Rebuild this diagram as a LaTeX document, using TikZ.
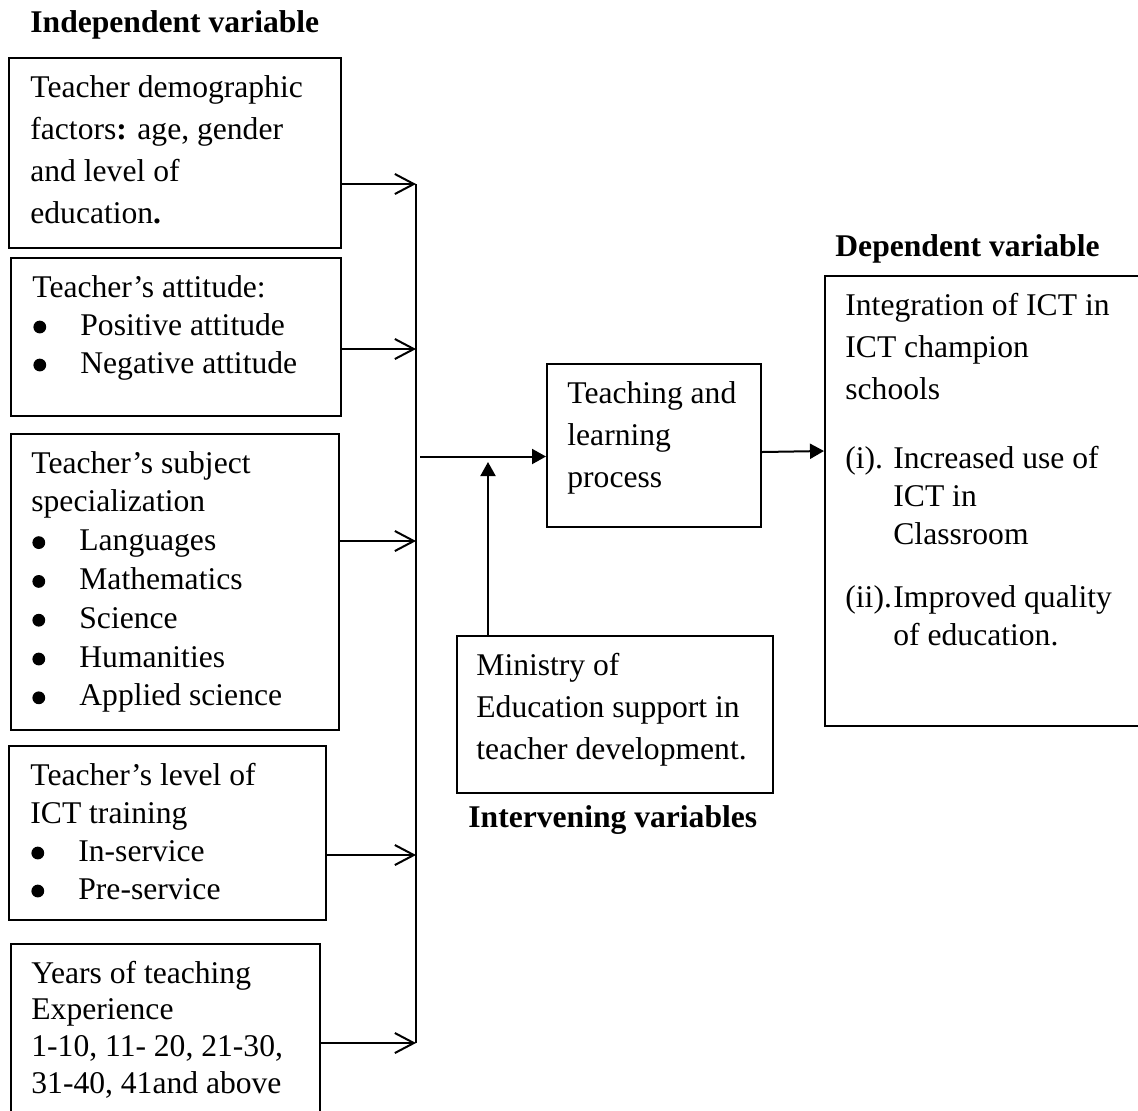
\documentclass[tikz,border=0pt]{standalone}
\usepackage{fontspec}
\setmainfont{Liberation Serif}
\usetikzlibrary{arrows.meta}

\newcommand{\bodysize}{\fontsize{15.8}{19}\selectfont}
\newcommand{\widesize}{\fontsize{15.8}{21}\selectfont}
\newcommand{\bdot}{\tikz[baseline=-4pt]\fill (0,0) circle (3.2pt);}
\newcommand{\bitem}[1]{\makebox[24pt][l]{\hspace*{0.5pt}\bdot}#1}
\newcommand{\ditem}[2]{\makebox[24pt][l]{#1}#2}

\tikzset{
  varbox/.style={draw, line width=1pt, inner sep=0pt, anchor=north west},
  vartext/.style={anchor=base west, inner sep=0pt, align=left},
  heading/.style={anchor=base west, inner sep=0pt, font=\bodysize\bfseries},
  feed/.style={line width=1pt, -{Straight Barb[length=9.5pt,width=10pt]}},
  flow/.style={line width=1pt, -{Triangle[length=7pt,width=7.5pt]}}
}

\begin{document}
\begin{tikzpicture}[x=0.5pt,y=-0.5pt]
\useasboundingbox (0,0) rectangle (1138,1110);
\clip (0,0) rectangle (1138,1110);

 \node[heading] (indep) at (30,32) {Independent variable};
 \node[heading] (depvar) at (835,256) {Dependent variable};
 \node[heading] (interv) at (468,827) {Intervening variables};

 \node[varbox, minimum width=166pt, minimum height=95pt] (demog) at (8,57) {};
 \node[varbox, minimum width=165pt, minimum height=79pt] (attit) at (10,257) {};
 \node[varbox, minimum width=164pt, minimum height=148pt] (subj) at (10,433) {};
 \node[varbox, minimum width=158.5pt, minimum height=87pt] (train) at (8,745) {};
 \node[varbox, minimum width=154.5pt, minimum height=95pt] (years) at (10,943) {};
 \node[varbox, minimum width=107pt, minimum height=81.5pt] (teach) at (546,363) {};
 \node[varbox, minimum width=158pt, minimum height=78.5pt] (mini) at (456,635) {};
 \node[varbox, minimum width=162pt, minimum height=225pt] (dep) at (824,275) {};

 \node[vartext, font=\widesize] (demogtxt) at (30,97) {\begin{tabular}[t]{@{}l@{}}
  Teacher demographic\\ factors\textbf{:} age, gender\\ and level of\\ education\textbf{.}\end{tabular}};
 \node[vartext, font=\bodysize] (attittxt) at (32,297) {\begin{tabular}[t]{@{}l@{}}
  Teacher’s attitude:\\ \bitem{Positive attitude}\\ \bitem{Negative attitude}\end{tabular}};
 \node[vartext, font=\fontsize{15.8}{19.4}\selectfont] (subjtxt) at (31,473) {\begin{tabular}[t]{@{}l@{}}
  Teacher’s subject\\ specialization\\ \bitem{Languages}\\ \bitem{Mathematics}\\
  \bitem{Science}\\ \bitem{Humanities}\\ \bitem{Applied science}\end{tabular}};
 \node[vartext, font=\bodysize] (traintxt) at (30,785) {\begin{tabular}[t]{@{}l@{}}
  Teacher’s level of\\ ICT training\\ \bitem{In-service}\\ \bitem{Pre-service}\end{tabular}};
 \node[vartext, font=\fontsize{15.8}{18.4}\selectfont] (yearstxt) at (31,983) {\begin{tabular}[t]{@{}l@{}}
  Years of teaching\\ Experience\\ 1-10, 11- 20, 21-30,\\ 31-40, 41and above\end{tabular}};
 \node[vartext, font=\widesize] (teachtxt) at (567,403) {\begin{tabular}[t]{@{}l@{}}
  Teaching and\\ learning\\ process\end{tabular}};
 \node[vartext, font=\widesize] (minitxt) at (476,675) {\begin{tabular}[t]{@{}l@{}}
  Ministry of\\ Education support in\\ teacher development.\end{tabular}};
 \node[vartext, font=\bodysize] (deptxt) at (845,315) {\begin{tabular}[t]{@{}l@{}}
  Integration of ICT in\\[2pt] ICT champion\\[2pt] schools\\[15.5pt]
  \ditem{(i).}{Increased use of}\\ \hspace*{24pt}ICT in\\ \hspace*{24pt}Classroom\\[12.5pt]
  \ditem{(ii).}{Improved quality}\\ \hspace*{24pt}of education.\end{tabular}};

 \coordinate (bustop) at (416,184);
 \coordinate (busbot) at (416,1043);
 \draw[line width=1pt] (bustop) -- (busbot);
 \foreach \n/\y in {demog/184, attit/349, subj/541, train/855, years/1043}
  \draw[feed] (\n.east |- 0,\y) -- (bustop |- 0,\y);

 \coordinate (jn) at (420,456.5);
 \draw[flow] (jn) -- (jn -| teach.west);
 \coordinate (up) at (488,462);
 \draw[flow] (up |- mini.north) -- (up);
 \draw[flow] (teach.east |- 0,452) -- (dep.west |- 0,451);
\end{tikzpicture}
\end{document}
